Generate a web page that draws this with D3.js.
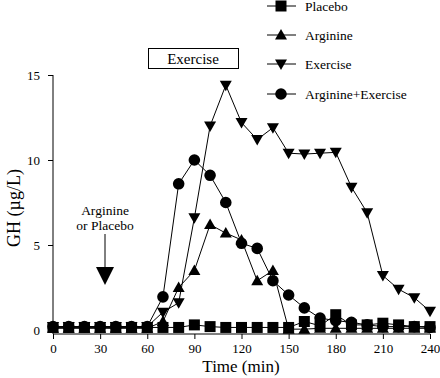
<!DOCTYPE html>
<html>
<head>
<meta charset="utf-8">
<script src="https://cdn.jsdelivr.net/npm/d3@7"></script>
<style>
html, body { margin: 0; padding: 0; background: #fff; }
svg { display: block; }
svg text { font-family: "Liberation Serif", "Times New Roman", serif; fill: #000; }
</style>
</head>
<body>
<svg id="chart" width="440" height="378"></svg>
<script>
// ---- data ----
const times = [0,10,20,30,40,50,60,70,80,90,100,110,120,130,140,150,160,170,180,190,200,210,220,230,240];
const placebo  = [0.15,0.15,0.15,0.15,0.15,0.15,0.15,0.15,0.15,0.3,0.2,0.15,0.15,0.15,0.15,0.15,0.5,0.25,0.9,0.3,0.3,0.4,0.3,0.2,0.2];
const arginine = [0.1,0.1,0.1,0.1,0.1,0.1,0.1,0.5,2.5,3.5,6.2,5.7,5.3,2.9,3.5,0.05,0.05,0.1,0.1,0.1,0.1,0.1,0.1,0.1,0.1];
const exercise = [0.2,0.2,0.2,0.2,0.2,0.2,0.2,1.05,1.6,6.6,12.0,14.4,12.2,11.2,11.9,10.4,10.35,10.4,10.45,8.4,6.9,3.2,2.4,1.9,1.1];
const argEx    = [0.2,0.2,0.2,0.2,0.2,0.2,0.2,1.95,8.6,10.0,9.1,7.5,5.1,4.8,2.9,2.06,1.3,0.7,0.55,0.45,0.3,0.2,0.2,0.2,0.15];
const seriesNames = ["Placebo","Arginine","Exercise","Arginine+Exercise"];
const xTicks = [0,30,60,90,120,150,180,210,240];
const yTicks = [0,5,10,15];

const FONT = "Liberation Serif, Times New Roman, serif";
const svg = d3.select("#chart");
const x = d3.scaleLinear().domain([0,240]).range([53,430]);
const y = d3.scaleLinear().domain([0,15]).range([330,75]);
const axisY = 334;

// marker shapes
const shapes = {
  square: "M-5.5,-5.5H5.5V5.5H-5.5Z",
  up: "M0,-6L6,4.5L-6,4.5Z",
  down: "M0,6L6,-4.5L-6,-4.5Z",
  circle: d3.symbol().type(d3.symbolCircle).size(Math.PI*5.8*5.8)()
};

// axes
const xAxis = d3.axisBottom(x).tickValues(xTicks).tickSize(5).tickSizeOuter(0).tickPadding(5);
const gx = svg.append("g").attr("transform", `translate(0,${axisY})`).call(xAxis)
  .attr("font-family", FONT).attr("font-size", 13);
gx.select(".domain").remove();
gx.append("line").attr("x1", x(0)).attr("x2", x(240)).attr("y1",0).attr("y2",0).attr("stroke","#000");
const yAxis = d3.axisLeft(y).tickValues(yTicks).tickSize(5).tickSizeOuter(0).tickPadding(8);
const gy = svg.append("g").attr("transform", `translate(${x(0)},0)`).call(yAxis)
  .attr("font-family", FONT).attr("font-size", 13);
gy.select(".domain").remove();
gy.append("line").attr("x1",0).attr("x2",0).attr("y1", y(15)).attr("y2", axisY).attr("stroke","#000");
svg.selectAll(".tick text").attr("font-family", FONT).attr("font-size",13).attr("fill","#000");
svg.selectAll(".tick line").attr("stroke","#000");

// axis titles
svg.append("text").attr("x", 241).attr("y", 372).attr("text-anchor","middle")
  .attr("font-family", FONT).attr("font-size",17).text("Time (min)");
svg.append("text").attr("transform","translate(20,208) rotate(-90)").attr("text-anchor","middle")
  .attr("font-family", FONT).attr("font-size",18).text("GH (\u00b5g/L)");

// series
const series = [
  {name: seriesNames[3], vals: argEx, shape: "circle"},
  {name: seriesNames[2], vals: exercise, shape: "down"},
  {name: seriesNames[1], vals: arginine, shape: "up"},
  {name: seriesNames[0], vals: placebo, shape: "square"}
];
const line = d3.line().x(d => x(d[0])).y(d => y(d[1]));
series.forEach(s => {
  const pts = times.map((t,i) => [t, s.vals[i]]);
  svg.append("path").datum(pts).attr("d", line).attr("fill","none").attr("stroke","#000").attr("stroke-width",1);
});
series.forEach(s => {
  const pts = times.map((t,i) => [t, s.vals[i]]);
  svg.append("g").selectAll("path").data(pts).join("path")
    .attr("transform", d => `translate(${x(d[0])},${y(d[1])})`)
    .attr("d", shapes[s.shape]).attr("fill","#000");
});

// legend
const legend = [
  {name: seriesNames[0], shape: "square", yy: 6},
  {name: seriesNames[1], shape: "up", yy: 35},
  {name: seriesNames[2], shape: "down", yy: 64},
  {name: seriesNames[3], shape: "circle", yy: 94}
];
legend.forEach(l => {
  const g = svg.append("g").attr("transform", `translate(0,${l.yy})`);
  g.append("line").attr("x1",267).attr("x2",296).attr("y1",0).attr("y2",0).attr("stroke","#000");
  g.append("path").attr("transform","translate(281,0)").attr("d", shapes[l.shape]).attr("fill","#000");
  g.append("text").attr("x",305).attr("y",4.7).attr("font-family", FONT).attr("font-size",13.5).text(l.name);
});

// Exercise box
svg.append("rect").attr("x", 148.5).attr("y", 48.5).attr("width", 90).attr("height", 20)
  .attr("fill","#fff").attr("stroke","#000");
svg.append("text").attr("x", 193).attr("y", 63.5).attr("text-anchor","middle")
  .attr("font-family", FONT).attr("font-size",15).text("Exercise");

// Arginine or Placebo annotation
svg.append("text").attr("x",105).attr("y",215).attr("text-anchor","middle").attr("font-family", FONT).attr("font-size",13.5).text("Arginine");
svg.append("text").attr("x",105).attr("y",230).attr("text-anchor","middle").attr("font-family", FONT).attr("font-size",13.5).text("or Placebo");
svg.append("line").attr("x1",105).attr("x2",105).attr("y1",234).attr("y2",268).attr("stroke","#000");
svg.append("path").attr("d","M96,267L114,267L105,285Z").attr("fill","#000");
</script>
</body>
</html>
